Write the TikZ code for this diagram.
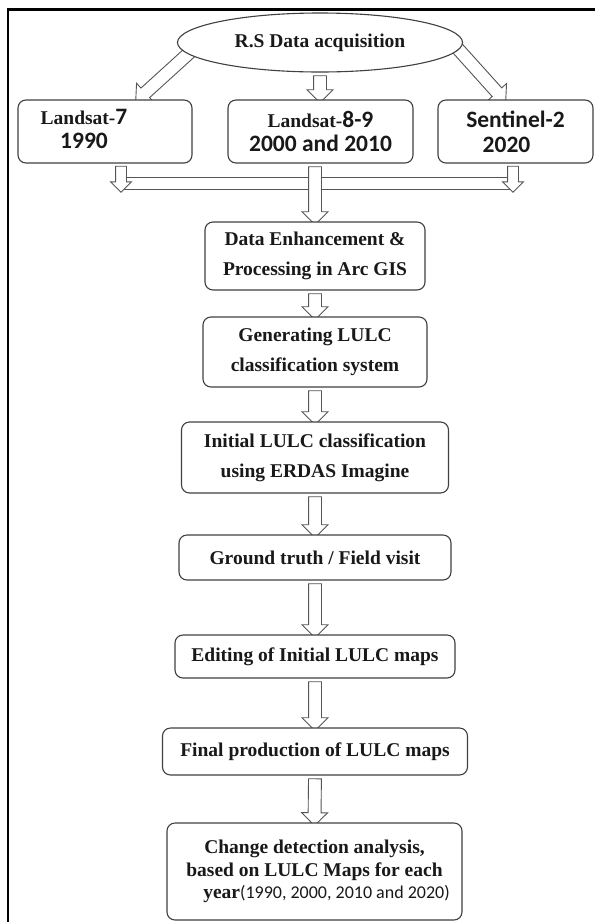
\documentclass[tikz,border=0pt]{standalone}
\usepackage{fontspec}
\setmainfont{Liberation Serif}
\newfontfamily\calib{Carlito}
\usetikzlibrary{shapes.geometric, shapes.arrows, calc}
\definecolor{boxline}{RGB}{64,64,64}
\definecolor{arrowline}{RGB}{85,85,85}
\definecolor{textdark}{RGB}{25,25,25}
\pgfdeclarelayer{background}
\pgfsetlayers{background,main}

% hollow block arrow from #3 to #4, named #2
\newcommand{\flowarrow}[4][]{%
  \path let \p1=(#3), \p2=(#4), \n1={atan2(\y2-\y1,\x2-\x1)}, \n2={veclen(\x2-\x1,\y2-\y1)} in
    node[hollowarrow, #1, minimum height=\n2, rotate=\n1] (#2) at ($(\p1)!0.5!(\p2)$) {};}
\newcommand{\sans}{\calib\fontsize{23.5}{24}\selectfont}

\begin{document}
\begin{tikzpicture}[x=1pt, y=-1pt,
    flowbox/.style={draw=boxline, line width=1.1pt, rounded corners=8pt, fill=white,
      align=center, text=textdark, inner sep=2pt,
      font=\fontsize{19.5}{30}\selectfont\bfseries},
    satbox/.style={flowbox, font=\fontsize{19.5}{24}\selectfont\bfseries},
    acqellipse/.style={ellipse, draw=boxline, line width=1.1pt, fill=white, text=textdark,
      minimum width=285pt, minimum height=59pt, inner sep=0pt,
      font=\fontsize{19.5}{24}\selectfont\bfseries},
    hollowarrow/.style={single arrow, draw=arrowline, fill=white, line width=0.9pt,
      inner xsep=0pt, inner ysep=6pt, text height=0pt, text depth=0pt,
      minimum width=0pt, single arrow head extend=6.5pt, single arrow tip angle=90,
      single arrow head indent=0pt, outer sep=0pt},
    stubarrow/.style={inner ysep=5pt, single arrow head extend=5pt},
    busline/.style={draw=arrowline, line width=0.9pt}]
  \useasboundingbox (0,0) rectangle (595,922);

  % frame
  \draw[line width=2.4pt, black] (8,930) |- (600,9.5);

  % source
  \node[acqellipse] (acq) at (320,42.5) {R.S Data acquisition};

  % satellites
  \node[satbox, minimum width=174pt, minimum height=63pt] (l7) at (105,131.5)
    {\begin{tabular}{@{}c@{}}Landsat-{\sans 7}\\{\sans 1990}\end{tabular}\hspace*{42pt}};
  \node[satbox, minimum width=185pt, minimum height=63pt] (l89) at (320.5,131.5)
    {Landsat-{\sans 8-9}\\{\sans 2000 and 2010}};
  \node[satbox, minimum width=155pt, minimum height=63pt] (s2) at (515.5,131.5)
    {{\sans Sentinel-2}\\[1pt]{\sans\hspace*{-18pt}2020}};

  % processing chain
  \node[flowbox, minimum width=220pt, minimum height=68pt] (enh) at (315,256)
    {Data Enhancement \&\\Processing in Arc GIS};
  \node[flowbox, minimum width=224pt, minimum height=70pt] (gen) at (315,352)
    {Generating LULC\\classification system};
  \node[flowbox, minimum width=267pt, minimum height=71pt] (init) at (315,457.5)
    {Initial LULC classification\\using ERDAS Imagine};
  \node[flowbox, minimum width=272pt, minimum height=45pt] (gt) at (315,557.5)
    {Ground truth / Field visit};
  \node[flowbox, minimum width=280pt, minimum height=43pt] (edit) at (315,656.5)
    {Editing of Initial LULC maps};
  \node[flowbox, minimum width=305pt, minimum height=47pt] (final) at (315,751.5)
    {Final production of LULC maps};
  \node[flowbox, minimum width=295pt, minimum height=97pt,
        font=\fontsize{19.5}{22.5}\selectfont\bfseries] (change) at (314.5,871.5)
    {Change detection analysis,\\based on LULC Maps for each\\
     \hspace*{24pt}year{\calib\mdseries\fontsize{18}{22.5}\selectfont(1990, 2000, 2010 and 2020)}};

  \coordinate (l7in) at ([xshift=33pt]l7.north);
  \coordinate (s2in) at ([xshift=-12pt]s2.north);
  \coordinate (busL) at ([xshift=16pt]l7.south);
  \coordinate (busR) at ([xshift=-2.5pt]s2.south);

  \begin{pgfonlayer}{background}
    % bus below the satellites
    \draw[busline] ([yshift=-14pt]busL) -- ([yshift=-14pt]busR);
    \draw[busline] ([yshift=-26pt]busL) -- ([yshift=-26pt]busR);

    \flowarrow{a1}{$(acq.185)!-14pt!(l7in)$}{l7in}
    \flowarrow{a2}{acq.south}{acq.south |- l89.north}
    \flowarrow{a3}{$(acq.-3)!-14pt!(s2in)$}{s2in}
    \flowarrow[stubarrow]{b1}{busL}{[yshift=-26pt]busL}
    \flowarrow[stubarrow]{b2}{busR}{[yshift=-26pt]busR}
    \flowarrow{b3}{l89.south -| enh.north}{enh.north}
    \flowarrow{c1}{enh.south}{gen.north}
    \flowarrow{c2}{gen.south}{init.north}
    \flowarrow{c3}{init.south}{gt.north}
    \flowarrow{c4}{gt.south}{edit.north}
    \flowarrow{c5}{edit.south}{final.north}
    \flowarrow{c6}{final.south}{change.north}
  \end{pgfonlayer}
\end{tikzpicture}
\end{document}
